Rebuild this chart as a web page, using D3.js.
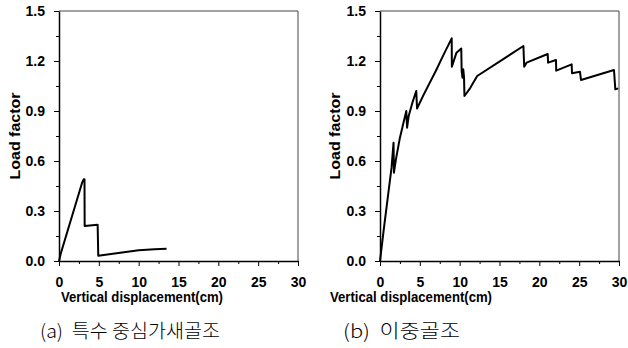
<!DOCTYPE html>
<html>
<head>
<meta charset="utf-8">
<script src="https://cdn.jsdelivr.net/npm/d3@7"></script>
<style>
  body { margin: 0; background: #fff; }
  svg { display: block; }
  .tick text { font-family: "Liberation Sans", Arial, sans-serif; font-weight: bold; font-size: 14px; fill: #000; }
</style>
</head>
<body>
<div id="chart"></div>
<script>
var svgWidth = 628;
var svgHeight = 348;

// (a) 특수 중심가새골조
var dispA = [0, 0.25, 2.9, 3.1, 3.2, 3.22, 4.85, 4.93, 7.0, 10.0, 12.0, 13.5];
var loadA = [0, 0.05, 0.47, 0.49, 0.49, 0.21, 0.218, 0.032, 0.045, 0.065, 0.071, 0.074];

// (b) 이중골조
var dispB = [0, 0.5, 1.0, 1.45, 1.7, 1.75, 2.0, 2.5, 3.0, 3.3, 3.4, 3.6, 4.1, 4.55, 4.65, 5.5, 7.0, 8.0, 9.0, 9.02,
             9.6, 10.2, 10.25, 10.35, 10.45, 10.55, 10.6, 11.3, 12.2, 18.0, 18.1, 18.4, 21.05, 21.1, 22.09, 22.12,
             24.06, 24.1, 25.1, 25.23, 29.37, 29.54, 29.9];
var loadB = [0, 0.2, 0.39, 0.56, 0.71, 0.53, 0.61, 0.74, 0.84, 0.9, 0.8, 0.87, 0.955, 1.02, 0.915, 1.0, 1.14, 1.24, 1.336, 1.166,
             1.25, 1.275, 1.14, 1.10, 1.15, 1.10, 0.99, 1.036, 1.11, 1.29, 1.166, 1.19, 1.242, 1.19, 1.206, 1.142,
             1.18, 1.126, 1.136, 1.086, 1.146, 1.03, 1.036];

var xTicks = [0, 5, 10, 15, 20, 25, 30];
var xMinor = [2.5, 7.5, 12.5, 17.5, 22.5, 27.5];
var yTicks = [0, 0.3, 0.6, 0.9, 1.2, 1.5];
var yMinor = [0.15, 0.45, 0.75, 1.05, 1.35];

var panels = [
  { disp: dispA, load: loadA, left: 59, right: 298, caption: "(a)  특수 중심가새골조", capX: 40, capLen: 180, xLabelX: 142, yLabelX: 20 },
  { disp: dispB, load: loadB, left: 380, right: 619, caption: "(b)  이중골조", capX: 343, capLen: 117, xLabelX: 411, yLabelX: 340 }
];

var svg = d3.select("#chart")
            .append("svg")
            .attr("width", svgWidth)
            .attr("height", svgHeight);

panels.forEach(function(p) {
  var xScale = d3.scaleLinear().domain([0, 30]).range([p.left, p.right]);
  var yScale = d3.scaleLinear().domain([0, 1.5]).range([261, 11]);

  var g = svg.append("g");

  // frame (top and right)
  g.append("path")
   .attr("d", `M${p.left},${yScale(1.5)}H${p.right}V${yScale(0)}`)
   .attr("fill", "none")
   .attr("stroke", "#444")
   .attr("stroke-width", 1);

  // minor ticks
  g.append("g")
   .attr("transform", `translate(0,${yScale(0)})`)
   .call(d3.axisBottom(xScale).tickValues(xMinor).tickSize(3).tickSizeOuter(0).tickFormat(""))
   .call(s => s.select(".domain").remove());
  g.append("g")
   .attr("transform", `translate(${p.left},0)`)
   .call(d3.axisLeft(yScale).tickValues(yMinor).tickSize(3).tickSizeOuter(0).tickFormat(""))
   .call(s => s.select(".domain").remove());

  var xAxis = d3.axisBottom(xScale).tickValues(xTicks).tickSize(5).tickSizeOuter(0).tickPadding(11);
  var yAxis = d3.axisLeft(yScale).tickValues(yTicks).tickSize(5).tickSizeOuter(0).tickPadding(9).tickFormat(d3.format(".1f"));

  g.append("g")
   .attr("transform", `translate(0,${yScale(0)})`)
   .call(xAxis)
   .call(s => s.select(".domain").attr("stroke-width", 1.5));
  g.append("g")
   .attr("transform", `translate(${p.left},0)`)
   .call(yAxis)
   .call(s => s.select(".domain").attr("stroke-width", 1.5));

  var line = d3.line()
               .x((d, i) => xScale(p.disp[i]))
               .y(d => yScale(d));

  g.append("path")
   .datum(p.load)
   .attr("d", line)
   .attr("fill", "none")
   .attr("stroke", "#000")
   .attr("stroke-width", 2)
   .attr("stroke-linejoin", "round");

  g.append("text")
   .attr("x", p.xLabelX)
   .attr("y", 302)
   .attr("text-anchor", "middle")
   .attr("textLength", 162)
   .attr("lengthAdjust", "spacingAndGlyphs")
   .style("font-family", "'Liberation Sans', Arial, sans-serif")
   .style("font-weight", "bold")
   .style("font-size", "14px")
   .text("Vertical displacement(cm)");

  g.append("text")
   .attr("transform", `translate(${p.yLabelX},136) rotate(-90)`)
   .attr("text-anchor", "middle")
   .attr("textLength", 87)
   .attr("lengthAdjust", "spacingAndGlyphs")
   .style("font-family", "'Liberation Sans', Arial, sans-serif")
   .style("font-weight", "bold")
   .style("font-size", "14px")
   .text("Load factor");

  g.append("text")
   .attr("x", p.capX)
   .attr("y", 338)
   .attr("textLength", p.capLen)
   .attr("lengthAdjust", "spacingAndGlyphs")
   .style("white-space", "pre")
   .style("font-family", "'Noto Sans CJK KR', sans-serif")
   .style("font-weight", "300")
   .style("font-size", "19px")
   .text(p.caption);
});
</script>
</body>
</html>
